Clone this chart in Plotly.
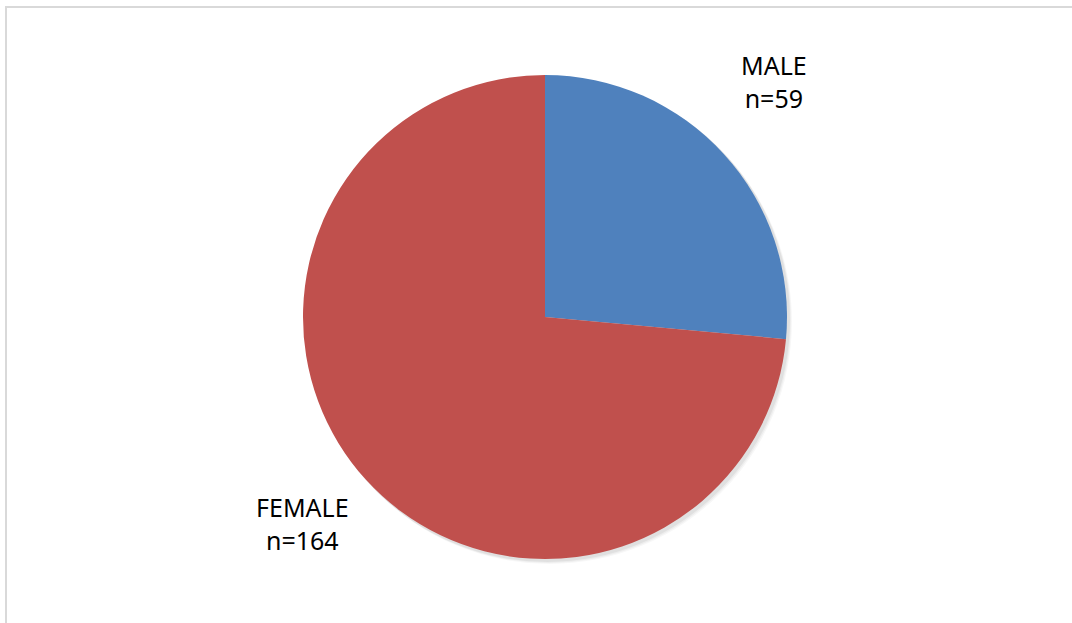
import plotly.graph_objects as go

labels = ["MALE", "FEMALE"]
values = [59, 164]
colors = ["#4F81BD", "#C0504D"]

W, H = 1072, 623
cx, cy, r = 545, 317, 242

def px(x):
    return x / W

def py(y):
    return 1 - y / H

fig = go.Figure(go.Pie(
    labels=labels,
    values=values,
    sort=False,
    direction="clockwise",
    rotation=0,
    marker=dict(colors=colors, line=dict(width=0)),
    textinfo="none",
    hoverinfo="label+value",
    showlegend=False,
    domain=dict(x=[px(cx - r), px(cx + r)], y=[py(cy + r), py(cy - r)]),
))

shapes = []
# soft shadow
for off, col in [(5, "rgba(0,0,0,0.03)"), (4, "rgba(0,0,0,0.04)"), (3, "rgba(0,0,0,0.05)")]:
    shapes.append(dict(type="circle", xref="paper", yref="paper", layer="below",
                       x0=px(cx - r + off - 1), x1=px(cx + r + off),
                       y0=py(cy + r + off), y1=py(cy - r + off - 1),
                       line=dict(width=0), fillcolor=col))
# chart border
shapes.append(dict(type="rect", xref="paper", yref="paper", layer="below",
                   x0=px(6), x1=1.2, y0=-0.2, y1=py(7),
                   line=dict(color="#d9d9d9", width=2)))

label_pos = [(774, 81), (302, 523)]
annotations = []
for lab, val, (x, y) in zip(labels, values, label_pos):
    annotations.append(dict(
        text=f"{lab}<br>n={val}", x=px(x), y=py(y), xref="paper", yref="paper",
        showarrow=False, xanchor="center", yanchor="middle", align="center",
        font=dict(family="Noto Sans", size=25, color="#000000"),
    ))

fig.update_layout(
    width=W, height=H,
    margin=dict(l=0, r=0, t=0, b=0),
    paper_bgcolor="white", plot_bgcolor="white",
    shapes=shapes, annotations=annotations,
)

fig.write_html(
    "out.html",
    config={"displayModeBar": False},
    post_script="document.body.style.margin='0';document.body.style.overflow='hidden';",
)
